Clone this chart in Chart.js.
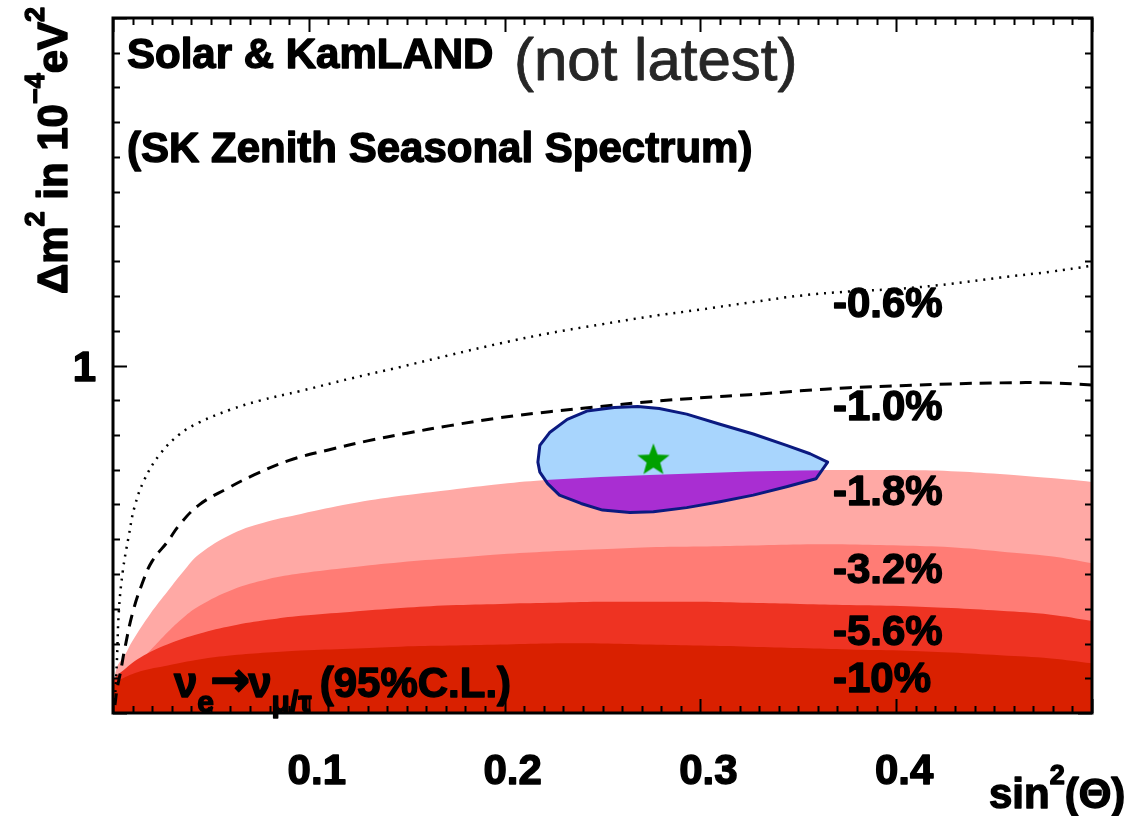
<!DOCTYPE html>
<html>
<head>
<meta charset="utf-8">
<script src="https://cdn.jsdelivr.net/npm/chart.js@4.4.1/dist/chart.umd.min.js"></script>
<style>
  html, body { margin: 0; padding: 0; background: #fff; }
  canvas { display: block; }
</style>
</head>
<body>
<canvas id="chart" width="1129" height="816"></canvas>
<script>
// Day-night asymmetry contours in the (sin^2 theta, delta m^2) plane
// x: sin^2(theta), y: delta m^2 in 10^-4 eV^2

// -0.6% contour (dotted)
const asym06X = [0.001,0.002,0.003,0.005,0.008,0.011,0.016,0.024,0.034,0.044,0.060,0.075,0.096,0.121,0.147,0.172,0.198,0.223,0.249,0.274,0.300,0.325,0.351,0.376,0.402,0.428,0.453,0.479,0.500];
const asym06Y = [0.037,0.151,0.294,0.408,0.508,0.593,0.671,0.745,0.802,0.836,0.873,0.899,0.927,0.962,0.996,1.030,1.064,1.093,1.118,1.141,1.161,1.181,1.201,1.213,1.221,1.235,1.253,1.270,1.287];

// -1.0% contour (dashed)
const asym10X = [0.001,0.002,0.004,0.006,0.010,0.015,0.020,0.028,0.034,0.044,0.058,0.072,0.090,0.110,0.130,0.150,0.172,0.198,0.223,0.249,0.274,0.300,0.325,0.351,0.376,0.402,0.428,0.453,0.479,0.500];
const asym10Y = [0.023,0.066,0.123,0.185,0.288,0.374,0.437,0.494,0.542,0.599,0.645,0.685,0.727,0.757,0.783,0.805,0.827,0.850,0.867,0.882,0.896,0.907,0.916,0.927,0.936,0.942,0.947,0.950,0.950,0.944];

// -1.8% region boundary
const asym18X = [0,0.002,0.006,0.010,0.019,0.028,0.036,0.044,0.061,0.079,0.096,0.121,0.147,0.172,0.198,0.223,0.249,0.274,0.300,0.325,0.351,0.376,0.402,0.428,0.453,0.479,0.500];
const asym18Y = [0.066,0.131,0.166,0.208,0.285,0.351,0.408,0.457,0.516,0.551,0.573,0.602,0.625,0.642,0.659,0.671,0.679,0.685,0.690,0.695,0.698,0.699,0.699,0.696,0.688,0.676,0.665];

// -3.2% region boundary
const asym32X = [0,0.002,0.010,0.019,0.028,0.036,0.044,0.061,0.079,0.096,0.121,0.147,0.172,0.198,0.223,0.249,0.274,0.300,0.325,0.351,0.376,0.402,0.428,0.453,0.479,0.500];
const asym32Y = [0.060,0.103,0.131,0.180,0.233,0.275,0.308,0.355,0.385,0.402,0.419,0.434,0.445,0.457,0.465,0.471,0.477,0.479,0.482,0.485,0.485,0.482,0.477,0.465,0.451,0.431];

// -5.6% region boundary
const asym56X = [0,0.004,0.014,0.028,0.044,0.061,0.079,0.096,0.121,0.147,0.172,0.198,0.223,0.249,0.274,0.300,0.325,0.351,0.376,0.402,0.428,0.453,0.479,0.500];
const asym56Y = [0.094,0.117,0.160,0.198,0.228,0.251,0.268,0.280,0.291,0.302,0.310,0.314,0.317,0.320,0.320,0.320,0.317,0.314,0.311,0.308,0.302,0.294,0.283,0.265];

// -10% region boundary
const asym100X = [0,0.004,0.014,0.028,0.044,0.061,0.079,0.096,0.121,0.147,0.172,0.198,0.223,0.249,0.274,0.300,0.325,0.351,0.376,0.402,0.428,0.453,0.479,0.500];
const asym100Y = [0.083,0.097,0.120,0.137,0.154,0.166,0.174,0.180,0.185,0.191,0.194,0.197,0.200,0.200,0.197,0.194,0.191,0.187,0.183,0.180,0.174,0.166,0.157,0.143];

// Solar + KamLAND allowed region (closed contour)
const allowedX = [0.217,0.218,0.223,0.232,0.242,0.256,0.268,0.279,0.293,0.310,0.327,0.344,0.356,0.365,0.359,0.344,0.327,0.310,0.293,0.276,0.264,0.250,0.239,0.228,0.222,0.218,0.217];
const allowedY = [0.722,0.770,0.807,0.845,0.869,0.879,0.882,0.876,0.860,0.831,0.803,0.770,0.746,0.722,0.674,0.651,0.627,0.608,0.591,0.579,0.577,0.584,0.603,0.627,0.660,0.693,0.722];

// best fit point
const bestFitX = [0.276];
const bestFitY = [0.727];

// axes
const xRange = [0, 0.5];
const yRange = [0, 2];
const xTickValues = [0.1, 0.2, 0.3, 0.4];
const xTickLabels = ['0.1', '0.2', '0.3', '0.4'];
const yTickValues = [1];
const yTickLabels = ['1'];
const xMinorStep = 0.01;
const yMinorStep = 0.1;

const contourLabels = ['-0.6%', '-1.0%', '-1.8%', '-3.2%', '-5.6%', '-10%'];

const pts = (xs, ys) => xs.map((x, i) => ({ x, y: ys[i] }));

const FONT = '"Liberation Sans", Arial, Helvetica, sans-serif';

const COLORS = {
  band18: '#ffa9a5',
  band32: '#ff7c75',
  band56: '#ee3322',
  band100: '#d92000',
  allowedFill: '#a8d5fd',
  allowedOverlap: '#a92ed2',
  allowedEdge: '#0b1a80',
  star: '#00a000'
};

// five-pointed star marker
function makeStar(r, color) {
  const c = document.createElement('canvas');
  const s = Math.ceil(r * 2 + 2);
  c.width = s; c.height = s;
  const g = c.getContext('2d');
  g.translate(s / 2, s / 2);
  g.beginPath();
  for (let i = 0; i < 10; i++) {
    const rad = i % 2 === 0 ? r : r * 0.42;
    const a = -Math.PI / 2 + i * Math.PI / 5;
    g.lineTo(rad * Math.cos(a), rad * Math.sin(a));
  }
  g.closePath();
  g.fillStyle = color;
  g.fill();
  return c;
}

// draws a run of text pieces (sub/superscripts via dy), heavy outline for a black weight
function drawRuns(ctx, parts, x, y, heavy = 1.4) {
  let cx = x;
  for (const p of parts) {
    ctx.font = `${p.w || 'bold'} ${p.s}px ${p.f || FONT}`;
    ctx.fillText(p.t, cx + (p.dx || 0), y + (p.dy || 0));
    if (heavy > 0) {
      ctx.lineWidth = heavy;
      ctx.lineJoin = 'round';
      ctx.strokeStyle = ctx.fillStyle;
      ctx.strokeText(p.t, cx + (p.dx || 0), y + (p.dy || 0));
    }
    cx += ctx.measureText(p.t).width + (p.k || 0);
  }
  return cx;
}

function tracePath(ctx, meta) {
  ctx.beginPath();
  meta.data.forEach((el, i) => {
    if (i === 0) ctx.moveTo(el.x, el.y); else ctx.lineTo(el.x, el.y);
  });
  ctx.closePath();
}

const ALLOWED_INDEX = 6;

// colour the part of the allowed region lying inside the -1.8% area
const overlapPlugin = {
  id: 'overlap',
  afterDatasetDraw(chart, args) {
    if (args.index !== ALLOWED_INDEX) return;
    const { ctx, chartArea: a } = chart;
    const band = chart.getDatasetMeta(0);
    const region = chart.getDatasetMeta(ALLOWED_INDEX);
    ctx.save();
    ctx.beginPath();
    band.data.forEach((el, i) => {
      if (i === 0) ctx.moveTo(el.x, el.y); else ctx.lineTo(el.x, el.y);
    });
    ctx.lineTo(a.right, a.bottom);
    ctx.lineTo(a.left, a.bottom);
    ctx.closePath();
    ctx.clip();
    tracePath(ctx, region);
    ctx.fillStyle = COLORS.allowedOverlap;
    ctx.fill();
    ctx.restore();
    ctx.save();
    tracePath(ctx, region);
    ctx.lineWidth = 3;
    ctx.lineJoin = 'round';
    ctx.strokeStyle = COLORS.allowedEdge;
    ctx.stroke();
    ctx.restore();
  }
};

// frame, inward ticks and all text
const framePlugin = {
  id: 'frame',
  afterDraw(chart) {
    const { ctx, chartArea: a, scales: { x, y } } = chart;
    ctx.save();
    ctx.strokeStyle = '#000';
    ctx.lineWidth = 2;
    ctx.beginPath();
    const nx = Math.round((xRange[1] - xRange[0]) / xMinorStep);
    for (let i = 0; i <= nx; i++) {
      const v = xRange[0] + i * xMinorStep;
      const px = Math.round(x.getPixelForValue(v)) + 0.5;
      const len = i % 10 === 0 ? 14 : 7;
      ctx.moveTo(px, a.bottom); ctx.lineTo(px, a.bottom - len);
      ctx.moveTo(px, a.top); ctx.lineTo(px, a.top + len);
    }
    const ny = Math.round((yRange[1] - yRange[0]) / yMinorStep);
    for (let i = 0; i <= ny; i++) {
      const v = yRange[0] + i * yMinorStep;
      const py = Math.round(y.getPixelForValue(v)) + 0.5;
      const len = i % 10 === 0 ? 14 : 7;
      ctx.moveTo(a.left, py); ctx.lineTo(a.left + len, py);
      ctx.moveTo(a.right, py); ctx.lineTo(a.right - len, py);
    }
    ctx.stroke();
    ctx.lineWidth = 3;
    ctx.strokeRect(a.left, a.top, a.right - a.left, a.bottom - a.top);

    ctx.fillStyle = '#000';
    ctx.textBaseline = 'alphabetic';

    // tick labels
    ctx.textAlign = 'center';
    xTickValues.forEach((v, i) => {
      ctx.font = `bold 42px ${FONT}`;
      const w = ctx.measureText(xTickLabels[i]).width;
      ctx.textAlign = 'left';
      drawRuns(ctx, [{ t: xTickLabels[i], s: 42 }], x.getPixelForValue(v) - w / 2 + 8, 784);
    });
    yTickValues.forEach((v, i) => {
      ctx.font = `bold 42px ${FONT}`;
      const w = ctx.measureText(yTickLabels[i]).width;
      drawRuns(ctx, [{ t: yTickLabels[i], s: 42 }], 96 - w, y.getPixelForValue(v) + 15);
    });

    // x axis title
    drawRuns(ctx, [
      { t: 'sin', s: 42 },
      { t: '2', s: 27, dy: -24 },
      { t: '(\u0398)', s: 42 }
    ], 989, 808);

    // y axis title (rotated)
    ctx.save();
    ctx.translate(67, 294);
    ctx.rotate(-Math.PI / 2);
    drawRuns(ctx, [
      { t: '\u0394m', s: 42 },
      { t: '2', s: 27, dy: -23 },
      { t: ' in 10', s: 42 },
      { t: '\u22124', s: 27, dy: -23 },
      { t: 'eV', s: 42 },
      { t: '2', s: 27, dy: -23 }
    ], 0, 0);
    ctx.restore();

    // headings
    drawRuns(ctx, [{ t: 'Solar & KamLAND', s: 42 }], 127, 68);
    ctx.fillStyle = '#262626';
    drawRuns(ctx, [{ t: '(not latest)', s: 60, w: 'normal' }], 514, 80, 0.8);
    ctx.fillStyle = '#000';
    drawRuns(ctx, [{ t: '(SK Zenith Seasonal Spectrum)', s: 42 }], 127, 162);

    // asymmetry contour labels
    const labelBase = [317, 420, 505, 583, 645, 692];
    contourLabels.forEach((t, i) => drawRuns(ctx, [{ t, s: 42 }], 833, labelBase[i]));

    // channel label
    drawRuns(ctx, [
      { t: '\u03bd', s: 42 },
      { t: 'e', s: 30, dy: 15, k: -4 },
      { t: '\u2192', s: 48, f: '"DejaVu Sans"', dy: -1, k: -2 },
      { t: '\u03bd', s: 42 },
      { t: '\u03bc/\u03c4', s: 30, dy: 15, k: 8 },
      { t: '(95%C.L.)', s: 42 }
    ], 174, 697);
    ctx.restore();
  }
};

const line = (data, extra) => Object.assign({
  data,
  showLine: true,
  pointRadius: 0,
  borderWidth: 0,
  tension: 0.4,
  fill: false
}, extra);

new Chart(document.getElementById('chart'), {
  type: 'scatter',
  data: {
    datasets: [
      line(pts(asym18X, asym18Y), { label: '-1.8%', fill: 'origin', backgroundColor: COLORS.band18, borderColor: COLORS.band18, order: 20 }),
      line(pts(asym32X, asym32Y), { label: '-3.2%', fill: 'origin', backgroundColor: COLORS.band32, borderColor: COLORS.band32, order: 19 }),
      line(pts(asym56X, asym56Y), { label: '-5.6%', fill: 'origin', backgroundColor: COLORS.band56, borderColor: COLORS.band56, order: 18 }),
      line(pts(asym100X, asym100Y), { label: '-10%', fill: 'origin', backgroundColor: COLORS.band100, borderColor: COLORS.band100, order: 17 }),
      line(pts(asym10X, asym10Y), { label: '-1.0%', borderColor: '#000', borderWidth: 3, borderDash: [12, 8], order: 15 }),
      line(pts(asym06X, asym06Y), { label: '-0.6%', borderColor: '#000', borderWidth: 2.5, borderDash: [2, 6], order: 14 }),
      line(pts(allowedX, allowedY), { label: 'allowed', fill: 'shape', backgroundColor: COLORS.allowedFill, borderColor: COLORS.allowedEdge, borderWidth: 0, tension: 0, order: 10 }),
      {
        label: 'best fit',
        data: pts(bestFitX, bestFitY),
        pointStyle: makeStar(17, COLORS.star),
        pointRadius: 17,
        order: 1
      }
    ]
  },
  options: {
    responsive: false,
    devicePixelRatio: 1,
    animation: false,
    events: [],
    layout: { padding: { left: 113, right: 37, top: 14, bottom: 103 } },
    scales: {
      x: { type: 'linear', min: xRange[0], max: xRange[1], display: false },
      y: { type: 'linear', min: yRange[0], max: yRange[1], display: false }
    },
    plugins: {
      legend: { display: false },
      tooltip: { enabled: false }
    }
  },
  plugins: [overlapPlugin, framePlugin]
});
</script>
</body>
</html>
